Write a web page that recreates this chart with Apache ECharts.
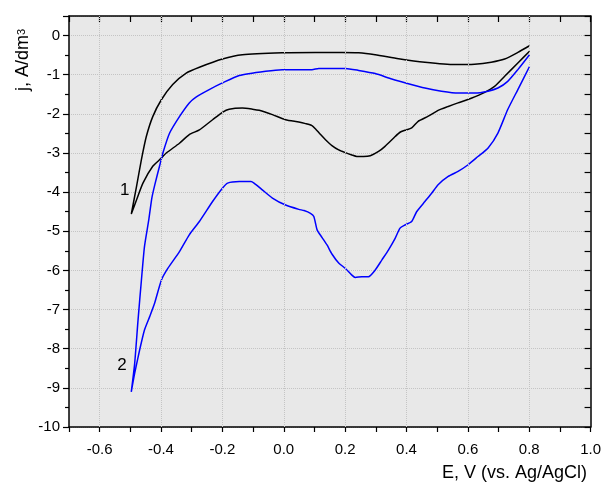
<!DOCTYPE html>
<html>
<head>
    <title>cv</title>
    <script src="https://cdn.jsdelivr.net/npm/echarts@6/dist/echarts.min.js"></script>
</head>
<body style="margin:0;">

<div id="cv" style="width: 604px;height:486px;"></div>

<script type="text/javascript">
    // curve 1 (black): forward sweep -0.5 -> 0.8, then reverse sweep 0.8 -> -0.5
    var e1Fwd = [-0.497, -0.480, -0.464, -0.448, -0.427, -0.399, -0.362, -0.318, -0.275, -0.200, -0.135, -0.005,
                 0.103, 0.190, 0.244, 0.298, 0.374, 0.460, 0.558, 0.622, 0.676, 0.720, 0.763, 0.801];
    var j1Fwd = [-4.56, -3.86, -3.17, -2.58, -2.07, -1.64, -1.25, -0.96, -0.81, -0.60, -0.49, -0.44,
                 -0.43, -0.43, -0.44, -0.49, -0.59, -0.68, -0.74, -0.73, -0.68, -0.60, -0.43, -0.26];
    var e1Rev = [0.801, 0.763, 0.720, 0.687, 0.655, 0.611, 0.568, 0.536, 0.503, 0.471, 0.438, 0.417, 0.395,
                 0.379, 0.363, 0.330, 0.309, 0.282, 0.260, 0.238, 0.222, 0.201, 0.179, 0.157, 0.136, 0.120,
                 0.103, 0.092, 0.071, 0.049, 0.006, -0.037, -0.080, -0.102, -0.135, -0.178, -0.200, -0.232,
                 -0.275, -0.308, -0.340, -0.383, -0.399, -0.427, -0.459, -0.480, -0.497];
    var j1Rev = [-0.40, -0.70, -1.04, -1.30, -1.45, -1.60, -1.72, -1.81, -1.91, -2.06, -2.19, -2.36, -2.42,
                 -2.47, -2.58, -2.83, -2.96, -3.07, -3.09, -3.09, -3.05, -2.99, -2.92, -2.81, -2.66, -2.53,
                 -2.38, -2.30, -2.25, -2.21, -2.15, -2.02, -1.91, -1.88, -1.85, -1.88, -1.96, -2.15,
                 -2.41, -2.53, -2.75, -3.00, -3.13, -3.34, -3.77, -4.20, -4.56];

    // curve 2 (blue)
    var e2Fwd = [-0.497, -0.486, -0.475, -0.464, -0.454, -0.440, -0.430, -0.420, -0.405, -0.394, -0.372, -0.340,
                 -0.308, -0.286, -0.243, -0.200, -0.145, -0.059, -0.005, 0.092, 0.114, 0.201, 0.244, 0.298,
                 0.352, 0.406, 0.460, 0.514, 0.568, 0.622, 0.666, 0.698, 0.730, 0.763, 0.801];
    var j2Fwd = [-9.10, -8.38, -7.27, -6.25, -5.39, -4.71, -4.15, -3.80, -3.34, -3.00, -2.49, -2.07,
                 -1.72, -1.57, -1.38, -1.21, -1.02, -0.91, -0.87, -0.87, -0.84, -0.84, -0.89, -0.97,
                 -1.11, -1.23, -1.34, -1.42, -1.47, -1.47, -1.42, -1.34, -1.17, -0.87, -0.49];
    var e2Rev = [0.801, 0.763, 0.730, 0.698, 0.666, 0.633, 0.601, 0.568, 0.536, 0.503, 0.482, 0.460, 0.433,
                 0.417, 0.395, 0.379, 0.363, 0.341, 0.320, 0.298, 0.276, 0.255, 0.233, 0.222, 0.201, 0.179,
                 0.157, 0.141, 0.125, 0.109, 0.098, 0.087, 0.066, 0.049, 0.006, -0.037, -0.070, -0.097,
                 -0.107, -0.145, -0.183, -0.200, -0.232, -0.275, -0.308, -0.340, -0.378, -0.399, -0.421,
                 -0.437, -0.454, -0.470, -0.486, -0.497];
    var j2Rev = [-0.79, -1.38, -1.89, -2.49, -2.87, -3.09, -3.30, -3.47, -3.60, -3.81, -4.03, -4.24, -4.50,
                 -4.75, -4.84, -4.92, -5.18, -5.48, -5.73, -5.99, -6.16, -6.16, -6.18, -6.12, -5.95, -5.81,
                 -5.58, -5.35, -5.16, -4.97, -4.62, -4.54, -4.47, -4.44, -4.33, -4.15, -3.94, -3.77,
                 -3.73, -3.73, -3.77, -3.90, -4.24, -4.75, -5.09, -5.52, -5.95, -6.25, -6.84,
                 -7.18, -7.52, -8.04, -8.63, -9.10];

    var xGridAt = [-0.6, -0.4, -0.2, 0.0, 0.2, 0.4, 0.6, 0.8];
    var curveLabels = ['1', '2'];
    var labelAt = [[-0.518, -3.96], [-0.527, -8.42]];

    // both sweeps in one series, with a gap at the 0.8 V end like the original
    function loop(ef, jf, er, jr) {
        var out = [];
        for (var i = 0; i < ef.length; i++) out.push([ef[i], jf[i]]);
        out.push(['-', '-']);
        for (var k = 0; k < er.length; k++) out.push([er[k], jr[k]]);
        return out;
    }

    var font = 'Liberation Sans';
    var cvChart = echarts.init(document.getElementById('cv'));

    var xBase = {
        type: 'value',
        min: -0.7,
        max: 1.0,
        interval: 0.1,
        axisLine: {onZero: false, lineStyle: {color: '#000', width: 1.5}},
        splitLine: {show: false}
    };
    var yBase = {
        type: 'value',
        min: -10,
        max: 0.5,
        interval: 1,
        axisLine: {show: true, onZero: false, lineStyle: {color: '#000', width: 1.5}},
        splitLine: {show: false}
    };

    cvChart.setOption({
        backgroundColor: '#fff',
        animation: false,
        grid: {
            left: 69, right: 10, top: 16, bottom: 59,
            show: true,
            backgroundColor: '#e8e8e8',
            borderWidth: 0
        },
        xAxis: [
            Object.assign({}, xBase, {
                position: 'bottom',
                axisTick: {length: 5, lineStyle: {color: '#000', width: 1.2}},
                axisLabel: {
                    color: '#000', fontSize: 15, fontFamily: font, margin: 10,
                    formatter: function (v) {
                        var k = Math.round(v * 10);
                        return k % 2 === 0 ? (k / 10).toFixed(1) : '';
                    }
                }
            }),
            Object.assign({}, xBase, {
                position: 'top',
                axisTick: {inside: true, length: 6, lineStyle: {color: '#000', width: 1.2}},
                axisLabel: {show: false}
            })
        ],
        yAxis: [
            Object.assign({}, yBase, {
                position: 'left',
                axisTick: {length: 6, lineStyle: {color: '#000', width: 1.2}},
                minorTick: {show: true, splitNumber: 2, length: 4, lineStyle: {color: '#000', width: 1.2}},
                splitLine: {show: true, lineStyle: {color: '#c4c4c4', type: 'dotted', width: 1}},
                axisLabel: {color: '#000', fontSize: 15, fontFamily: font, margin: 9, showMaxLabel: false}
            }),
            Object.assign({}, yBase, {
                position: 'right',
                axisTick: {inside: true, length: 6, lineStyle: {color: '#000', width: 1.2}},
                minorTick: {show: true, splitNumber: 2, length: 6, lineStyle: {color: '#000', width: 1.2}},
                axisLabel: {show: false}
            })
        ],
        graphic: [
            {
                type: 'text', x: 23, y: 60, rotation: Math.PI / 2,
                style: {
                    text: '{a|j, A/dm}{s|3}',
                    textAlign: 'center', textVerticalAlign: 'middle', fill: '#000',
                    rich: {
                        a: {fontSize: 18, fontFamily: font, lineHeight: 22},
                        s: {fontSize: 11, fontFamily: font, verticalAlign: 'top', lineHeight: 22}
                    }
                }
            },
            {
                type: 'text', right: 17, top: 458,
                style: {text: 'E, V (vs. Ag/AgCl)', fontSize: 18, fontFamily: font, fill: '#000'}
            }
        ],
        series: [
            {
                type: 'line',
                data: [],
                silent: true,
                markLine: {
                    silent: true,
                    symbol: ['none', 'none'],
                    label: {show: false},
                    lineStyle: {color: '#c4c4c4', type: 'dotted', width: 1},
                    data: xGridAt.map(function (v) { return {xAxis: v}; })
                }
            },
            {
                name: 'curve 1',
                type: 'line',
                data: loop(e1Fwd, j1Fwd, e1Rev, j1Rev),
                showSymbol: false,
                connectNulls: false,
                smooth: 0.2,
                lineStyle: {color: '#000', width: 1.5},
                itemStyle: {color: '#000'},
                markPoint: {
                    symbol: 'circle', symbolSize: 1,
                    itemStyle: {color: 'rgba(0,0,0,0)'},
                    label: {show: true, position: 'inside', color: '#000', fontSize: 17, fontFamily: font},
                    data: [{coord: labelAt[0], value: curveLabels[0]}]
                }
            },
            {
                name: 'curve 2',
                type: 'line',
                data: loop(e2Fwd, j2Fwd, e2Rev, j2Rev),
                showSymbol: false,
                connectNulls: false,
                smooth: 0.2,
                lineStyle: {color: '#0000ff', width: 1.5},
                itemStyle: {color: '#0000ff'},
                markPoint: {
                    symbol: 'circle', symbolSize: 1,
                    itemStyle: {color: 'rgba(0,0,0,0)'},
                    label: {show: true, position: 'inside', color: '#000', fontSize: 17, fontFamily: font},
                    data: [{coord: labelAt[1], value: curveLabels[1]}]
                }
            }
        ]
    });
</script>
</body>
</html>
